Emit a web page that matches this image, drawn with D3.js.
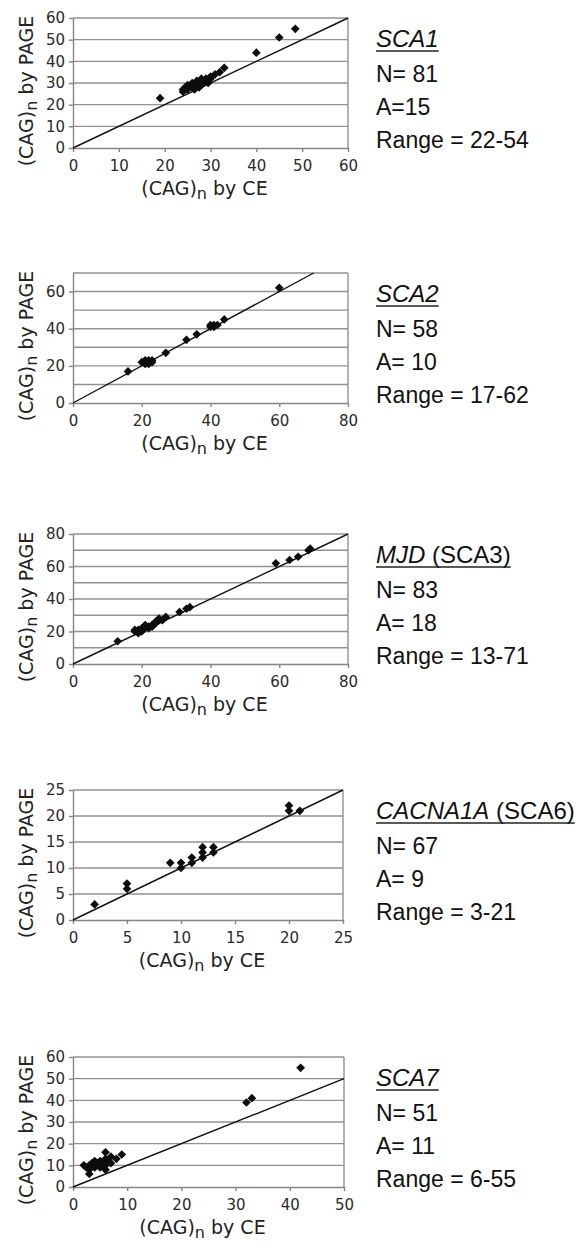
<!DOCTYPE html>
<html>
<head>
<meta charset="utf-8">
<script src="https://cdn.jsdelivr.net/npm/d3@7"></script>
<style>
  body { margin: 0; background: #fff; }
</style>
</head>
<body>
<div id="chart"></div>
<script>
// values: [CAG by CE, CAG by PAGE]
const sca1Points = [[19,23],[24,26],[24,27],[24.5,28],[25,27],[25,28],[25,29],[26,28],[26,29],[26,30],
    [26.5,27],[27,29],[27,30],[27,31],[27.5,28],[28,29],[28,30],[28,31],[28,32],[28.5,30],[29,31],[29,32],
    [29.5,30],[30,32],[30,33],[31,34],[32,35],[33,37],[40,44],[45,51],[48.5,55]];
const sca2Points = [[16,17],[20,22],[21,21],[21,22],[21,23],[22,21],[22,22],[22,23],[23,22],[23,23],
    [27,27],[33,34],[36,37],[40,41],[40,42],[41,41],[41,42],[42,42],[44,45],[60,62]];
const mjdPoints = [[13,14],[18,20],[18,21],[19,19],[19,20],[19,21],[20,20],[20,21],[20,22],[21,22],[21,23],
    [21,24],[22,22],[22,23],[23,23],[23,24],[24,25],[24,26],[25,27],[25,28],[26,27],[27,29],[31,32],
    [33,34],[34,35],[59,62],[63,64],[65.5,66],[68.5,70],[69,71]];
const cacna1aPoints = [[2,3],[5,6],[5,7],[9,11],[10,10],[10,11],[11,11],[11,12],[12,12],[12,13],[12,14],
    [13,13],[13,14],[20,21],[20,22],[21,21]];
const sca7Points = [[2,10],[2.5,9],[3,6],[3,8],[3,10],[3.5,11],[4,9],[4,10],[4,12],[4.5,11],[5,9],[5,10],
    [5,12],[5.5,11],[6,8],[6,10],[6,13],[6,16],[6.5,12],[7,11],[7,14],[8,13],[9,15],[32,39],[33,41],[42,55]];

const panelPoints = [sca1Points, sca2Points, mjdPoints, cacna1aPoints, sca7Points];
const geneNames = ["SCA1", "SCA2", "MJD", "CACNA1A", "SCA7"];
const geneSuffix = ["", "", " (SCA3)", " (SCA6)", ""];
const nLabels = ["N= 81", "N= 58", "N= 83", "N= 67", "N= 51"];
const aLabels = ["A=15", "A= 10", "A= 18", "A= 9", "A= 11"];
const rangeLabels = ["Range = 22-54", "Range = 17-62", "Range = 13-71", "Range = 3-21", "Range = 6-55"];
const xMaxes = [60, 80, 80, 25, 50];
const yMaxes = [60, 70, 80, 25, 60];
const xTickSteps = [10, 20, 20, 5, 10];
const yTickSteps = [10, 20, 20, 5, 10];
const gridSteps = [10, 10, 10, 5, 10];

const width = 583, height = 1244;
const svg = d3.select("#chart")
    .append("svg")
    .attr("width", width)
    .attr("height", height);

// layout of the five stacked panels
const plotTops = [18, 273, 534, 790, 1057];
const plotRights = [348, 348, 348, 343, 344];
const plotLeft = 73, plotH = 130;
const gridColor = "#929292";
const axisFont = "'DejaVu Sans', Verdana, sans-serif";
const textFont = "'Liberation Sans', Arial, Helvetica, sans-serif";

panelPoints.forEach(function (points, i) {
    const top = plotTops[i], bottom = top + plotH, right = plotRights[i];
    const x = d3.scaleLinear().domain([0, xMaxes[i]]).range([plotLeft, right]);
    const y = d3.scaleLinear().domain([0, yMaxes[i]]).range([bottom, top]);
    const g = svg.append("g");

    // horizontal gridlines
    g.selectAll(".grid")
        .data(d3.range(gridSteps[i], yMaxes[i] + 0.001, gridSteps[i]))
        .enter()
        .append("line")
        .attr("x1", plotLeft).attr("x2", right)
        .attr("y1", d => y(d)).attr("y2", d => y(d))
        .attr("stroke", gridColor)
        .attr("stroke-width", 1.4);

    // right border of the plot area
    g.append("line")
        .attr("x1", right).attr("x2", right)
        .attr("y1", top).attr("y2", bottom)
        .attr("stroke", gridColor)
        .attr("stroke-width", 1.4);

    const xAxis = d3.axisBottom(x)
        .tickValues(d3.range(0, xMaxes[i] + 0.001, xTickSteps[i]))
        .tickSize(4).tickSizeOuter(0).tickPadding(8);
    const yAxis = d3.axisLeft(y)
        .tickValues(d3.range(0, yMaxes[i] + 0.001, yTickSteps[i]))
        .tickSize(4).tickSizeOuter(0).tickPadding(4);

    [g.append("g").attr("transform", "translate(0," + bottom + ")").call(xAxis),
     g.append("g").attr("transform", "translate(" + plotLeft + ",0)").call(yAxis)]
        .forEach(function (ax) {
            ax.attr("font-family", axisFont).attr("font-size", 15);
            ax.selectAll("path, line").attr("stroke", "#858585").attr("stroke-width", 1.4);
            ax.selectAll("text").attr("fill", "#2a2a2a");
        });

    // y = x reference line
    const m = Math.min(xMaxes[i], yMaxes[i]);
    g.append("line")
        .attr("x1", x(0)).attr("y1", y(0))
        .attr("x2", x(m)).attr("y2", y(m))
        .attr("stroke", "#111")
        .attr("stroke-width", 1.4);

    // diamond markers
    g.selectAll(".pt")
        .data(points)
        .enter()
        .append("path")
        .attr("d", d3.symbol(d3.symbolSquare, 38))
        .attr("transform", d => "translate(" + x(d[0]) + "," + y(d[1]) + ") rotate(45)")
        .attr("fill", "#0d0d0d");

    // axis titles
    const xt = g.append("text")
        .attr("x", (plotLeft + right) / 2 - 6)
        .attr("y", bottom + 47)
        .attr("text-anchor", "middle")
        .attr("font-family", axisFont)
        .attr("font-size", 19)
        .attr("fill", "#222");
    xt.append("tspan").text("(CAG)");
    xt.append("tspan").attr("font-size", 16).attr("dy", 4).text("n");
    xt.append("tspan").attr("dy", -4).text(" by CE");

    const yt = g.append("text")
        .attr("transform", "translate(33," + (top + plotH / 2 + 8) + ") rotate(-90)")
        .attr("text-anchor", "middle")
        .attr("font-family", axisFont)
        .attr("font-size", 19)
        .attr("fill", "#222");
    yt.append("tspan").text("(CAG)");
    yt.append("tspan").attr("font-size", 16).attr("dy", 4).text("n");
    yt.append("tspan").attr("dy", -4).text(" by PAGE");

    // side notes
    const tx = 376;
    const title = g.append("text")
        .attr("x", tx).attr("y", top + 29)
        .attr("font-family", textFont)
        .attr("font-size", 24)
        .attr("fill", "#111");
    title.append("tspan").attr("font-style", "italic").text(geneNames[i]);
    title.append("tspan").text(geneSuffix[i]);
    const tw = title.node().getComputedTextLength();
    g.append("line")
        .attr("x1", tx).attr("x2", tx + tw)
        .attr("y1", top + 33).attr("y2", top + 33)
        .attr("stroke", "#222")
        .attr("stroke-width", 1.5);

    [nLabels[i], aLabels[i], rangeLabels[i]].forEach(function (s, k) {
        g.append("text")
            .attr("x", tx).attr("y", top + [64, 97, 130][k])
            .attr("font-family", textFont)
            .attr("font-size", 23)
            .attr("fill", "#111")
            .text(s);
    });
});
</script>
</body>
</html>
